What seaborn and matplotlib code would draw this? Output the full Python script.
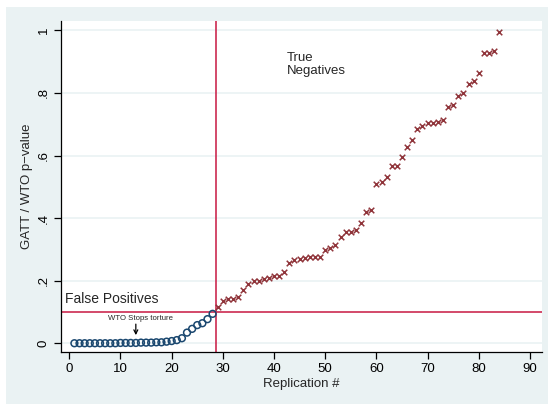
import matplotlib
matplotlib.use("Agg")
import matplotlib.pyplot as plt
import seaborn as sns
import pandas as pd
import numpy as np

# Data
fp_x = list(range(1, 29))
fp_y = [0.000, 0.000, 0.000, 0.000, 0.000, 0.000, 0.000, 0.000, 0.000, 0.001,
        0.001, 0.001, 0.001, 0.002, 0.002, 0.002, 0.003, 0.003, 0.005, 0.007,
        0.010, 0.016, 0.034, 0.046, 0.058, 0.064, 0.077, 0.094]
tn_x = list(range(29, 85))
tn_y = [0.117, 0.136, 0.142, 0.142, 0.147, 0.170, 0.190, 0.200, 0.200, 0.205,
        0.210, 0.215, 0.215, 0.228, 0.255, 0.266, 0.269, 0.274, 0.275, 0.275,
        0.277, 0.298, 0.304, 0.313, 0.341, 0.355, 0.355, 0.362, 0.385, 0.418,
        0.426, 0.508, 0.516, 0.530, 0.566, 0.566, 0.594, 0.628, 0.650, 0.685,
        0.696, 0.703, 0.703, 0.707, 0.713, 0.756, 0.760, 0.790, 0.800, 0.830,
        0.837, 0.865, 0.928, 0.928, 0.935, 0.995]
x_ticks = [0, 10, 20, 30, 40, 50, 60, 70, 80, 90]
y_ticks = [0, 0.2, 0.4, 0.6, 0.8, 1.0]
y_tick_labels = ["0", ".2", ".4", ".6", ".8", "1"]
cutoff_x = 28.6
cutoff_y = 0.1

df_fp = pd.DataFrame({"rep": fp_x, "p": fp_y})
df_tn = pd.DataFrame({"rep": tn_x, "p": tn_y})

sns.set_style("white")
plt.rcParams['font.family'] = ['Liberation Sans', 'DejaVu Sans']

bg = "#EAF2F3"
fig = plt.figure(figsize=(5.51, 4.04), dpi=100, facecolor="white")
fig.patches.append(plt.Rectangle((6/551, 0), (548-6)/551, 1 - 7/404,
                                 transform=fig.transFigure, facecolor=bg,
                                 edgecolor="none", zorder=-10))
ax = fig.add_axes([60.7/551, 1 - 352/404, (541.7-60.7)/551, (352-20.7)/404])
ax.set_facecolor("white")

for yv in y_ticks:
    ax.axhline(yv, color=bg, lw=1.2, zorder=0)

sns.scatterplot(data=df_fp, x="rep", y="p", ax=ax, marker="o", s=24,
                facecolor="none", edgecolor="#1A476F", linewidth=1.1, zorder=3)
sns.scatterplot(data=df_tn, x="rep", y="p", ax=ax, marker="x", s=16,
                color="#90353B", linewidth=1.1, zorder=3)

red = "#CC2A50"
ax.axvline(cutoff_x, color=red, lw=1.2, zorder=2)
ax.axhline(cutoff_y, color=red, lw=1.2, zorder=2)

ax.text(-0.85, 0.118, "False Positives", fontsize=10, ha="left", va="bottom")
ax.text(42.5, 0.93, "True\nNegatives", fontsize=9.5, ha="left", va="top",
        linespacing=1.05)
ax.text(13.9, 0.08, "WTO Stops torture", fontsize=5.6, ha="center", va="center")
ax.annotate("", xy=(13.0, 0.017), xytext=(13.0, 0.07),
            arrowprops=dict(arrowstyle="->", color="black", lw=0.9,
                            mutation_scale=7))

ax.set_xlim(-1.68, 92.3)
ax.set_ylim(-0.028, 1.031)
ax.set_xticks(x_ticks)
ax.set_xticklabels([str(t) for t in x_ticks])
ax.set_yticks(y_ticks)
ax.set_yticklabels(y_tick_labels, rotation=90, va="center")
ax.tick_params(axis="both", direction="out", length=5, width=0.9,
               labelsize=9.5, colors="black", pad=3,
               bottom=True, left=True)
ax.set_xlabel("Replication #", fontsize=9.5, labelpad=2)
ax.set_ylabel("GATT / WTO p\u2212value", fontsize=9.5, labelpad=3)

for s in ["top", "right"]:
    ax.spines[s].set_visible(False)
for s in ["left", "bottom"]:
    ax.spines[s].set_color("black")
    ax.spines[s].set_linewidth(0.9)

fig.savefig("out.png", dpi=100, facecolor=fig.get_facecolor())
